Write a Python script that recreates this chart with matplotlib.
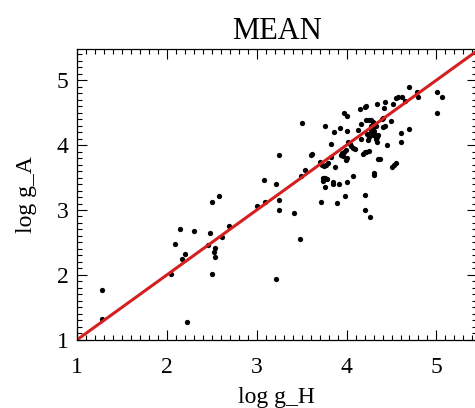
import numpy as np
import matplotlib
matplotlib.use('Agg')
import matplotlib.pyplot as plt
from matplotlib.ticker import MultipleLocator

###############################################################################
###                                DATA
###############################################################################
# values
log_gH = [1.28, 1.28, 2.23, 2.05, 2.09, 2.15, 2.17, 2.20, 2.30, 2.48, 2.46, 2.50,
          2.58, 2.50, 2.53, 2.54, 2.54, 2.61, 2.69, 3.00, 3.09, 3.08, 3.22, 3.25,
          3.25, 3.22, 3.25, 3.42, 3.48, 3.50, 3.49, 3.54, 3.60, 3.61, 3.70, 3.72,
          3.73, 3.75, 3.77, 3.79, 3.74, 3.76, 3.78, 3.74, 3.76, 3.76, 3.83, 3.83,
          3.85, 3.85, 3.86, 3.87, 3.89, 3.92, 3.93, 3.94, 3.95, 3.97, 3.99, 3.96,
          3.97, 4.00, 3.98, 4.00, 4.00, 3.99, 4.01, 4.02, 4.04, 4.05, 4.07, 4.07,
          4.09, 4.13, 4.15, 4.16, 4.16, 4.18, 4.20, 4.20, 4.20, 4.21, 4.22, 4.22,
          4.25, 4.27, 4.29, 4.22, 4.25, 4.23, 4.25, 4.24, 4.26, 4.27, 4.29, 4.27,
          4.29, 4.30, 4.31, 4.32, 4.34, 4.33, 4.35, 4.34, 4.34, 4.35, 4.37, 4.32,
          4.33, 4.39, 4.41, 4.40, 4.43, 4.42, 4.43, 4.45, 4.49, 4.51, 4.53, 4.52,
          4.55, 4.55, 4.57, 4.60, 4.60, 4.62, 4.65, 4.70, 4.70, 4.78, 4.80, 5.01,
          5.06, 5.01, 4.27, 4.30]
log_gA = [1.77, 1.32, 1.27, 2.02, 2.47, 2.71, 2.25, 2.33, 2.68, 2.64, 2.46, 3.12,
          3.21, 2.02, 2.36, 2.41, 2.27, 2.58, 2.76, 3.06, 3.12, 3.46, 3.40, 3.15,
          3.00, 1.94, 3.85, 2.96, 2.55, 4.34, 3.53, 3.61, 3.85, 3.87, 3.74, 3.12,
          3.69, 3.67, 3.70, 3.72, 3.49, 3.50, 3.47, 3.45, 3.35, 4.29, 4.01, 3.82,
          3.43, 3.40, 4.20, 3.66, 3.11, 3.40, 4.27, 3.85, 3.88, 3.90, 3.92, 3.83,
          4.49, 4.45, 3.21, 3.43, 3.80, 3.77, 4.22, 4.05, 4.02, 3.99, 3.52, 3.96,
          3.94, 4.23, 4.55, 4.33, 4.09, 3.87, 3.89, 3.23, 3.00, 4.59, 4.60, 4.38,
          4.38, 4.38, 4.36, 3.90, 3.91, 4.17, 4.12, 4.08, 2.89, 4.29, 4.28, 4.20,
          4.15, 3.54, 3.57, 4.15, 4.13, 4.10, 4.16, 4.64, 4.04, 3.78, 3.78, 4.32,
          4.30, 4.40, 4.42, 4.28, 4.29, 4.57, 4.66, 4.00, 4.37, 3.66, 3.69, 4.63,
          3.73, 4.72, 4.74, 4.19, 4.04, 4.74, 4.68, 4.90, 4.24, 4.81, 4.74, 4.81,
          4.74, 4.50, 4.25, 4.22]

title = 'MEAN'
xlabel = 'log g_H'
ylabel = 'log g_A'
xlim = (1, 5.45)
ylim = (1, 5.48)

###############################################################################
###                                PLOT
###############################################################################
plt.rcParams['font.family'] = ['Liberation Serif', 'DejaVu Serif']

fig = plt.figure(figsize=(4.75, 4.08), dpi=100)
ax = fig.add_axes([0.162, 0.167, 0.842, 0.713])

ax.plot(log_gH, log_gA, 'o', color='black', markersize=3.8, markeredgewidth=0)
ax.plot(xlim, xlim, '-', color='#d42020', linewidth=2.2)

ax.set_xlim(xlim)
ax.set_ylim(ylim)
ax.xaxis.set_major_locator(MultipleLocator(1))
ax.yaxis.set_major_locator(MultipleLocator(1))
ax.xaxis.set_minor_locator(MultipleLocator(0.1))
ax.yaxis.set_minor_locator(MultipleLocator(0.1))
ax.tick_params(which='both', direction='in', top=True, right=True, width=0.8)
ax.tick_params(which='major', length=7, labelsize=17)
ax.tick_params(which='minor', length=3.5)
ax.tick_params(axis='x', which='major', pad=12)
ax.tick_params(axis='y', which='major', pad=6)
for sp in ax.spines.values():
    sp.set_linewidth(0.9)

ax.set_title(title, fontsize=22, pad=7)
ax.set_xlabel(xlabel, fontsize=17, labelpad=7)
ax.set_ylabel(ylabel, fontsize=17, labelpad=14)

fig.savefig('out.png', dpi=100)
